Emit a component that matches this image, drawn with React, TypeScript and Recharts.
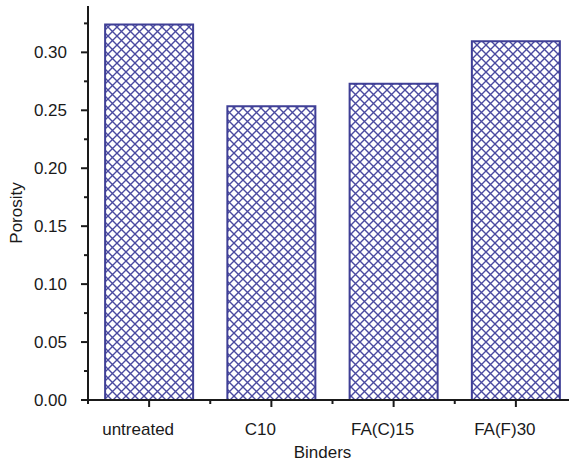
import React from "react";
import { BarChart, Bar, XAxis, YAxis, Label } from "recharts";

const binders = ["untreated", "C10", "FA(C)15", "FA(F)30"];
const porosity = [0.324, 0.2535, 0.273, 0.3095];
const yTicks = [0, 0.025, 0.05, 0.075, 0.1, 0.125, 0.15, 0.175, 0.2, 0.225, 0.25, 0.275, 0.3, 0.325];

const data = binders.map((name, i) => ({ name, porosity: porosity[i] }));

const W = 590;
const H = 466;
const M = { top: 6, right: 13, left: 0, bottom: 0 };
const Y_W = 88;
const X_H = 66;
const BAND = (W - M.left - M.right - Y_W) / binders.length;

const font = "'Liberation Sans', Arial, sans-serif";
const ink = "#1a1a1a";
const barBlue = "#3f3f96";
const FS = 17;

function YTick(props: any) {
  const { x, y, payload } = props;
  const v = Number(payload.value);
  const major = Math.abs(v / 0.05 - Math.round(v / 0.05)) < 1e-6;
  return (
    <g>
      <line x1={x - (major ? 7 : 4)} x2={x} y1={y} y2={y} stroke={ink} strokeWidth={2} />
      {major && (
        <text x={x - 21} y={y} dy={6} textAnchor="end" fontSize={FS} fontFamily={font} fill={ink}>
          {v.toFixed(2)}
        </text>
      )}
    </g>
  );
}

function XTick(props: any) {
  const { x, y, payload } = props;
  return (
    <g>
      <line x1={x} x2={x} y1={y} y2={y + 7} stroke={ink} strokeWidth={2} />
      <line x1={x - BAND / 2} x2={x - BAND / 2} y1={y} y2={y + 4} stroke={ink} strokeWidth={2} />
      <text x={x - 11} y={y + 35} textAnchor="middle" fontSize={FS} fontFamily={font} fill={ink}>
        {payload.value}
      </text>
    </g>
  );
}

export default function App() {
  return (
    <div style={{ position: "absolute", left: 0, top: 0, width: 569, height: 466, overflow: "hidden", background: "#fff" }}>
      <BarChart width={W} height={H} data={data} margin={M} barCategoryGap="14%">
        <defs>
          <pattern id="xhatch" patternUnits="userSpaceOnUse" width={9} height={9}>
            <path d="M0,0 L9,9 M9,0 L0,9" stroke="#4a4aa0" strokeWidth={1.4} />
          </pattern>
        </defs>
        <XAxis
          dataKey="name"
          height={X_H}
          interval={0}
          tickLine={false}
          tickSize={0}
          tickMargin={0}
          tick={<XTick />}
          axisLine={{ stroke: ink, strokeWidth: 2 }}
        >
          <Label value="Binders" position="insideBottom" offset={8} dx={-10} style={{ fontSize: FS, fontFamily: font, fill: ink }} />
        </XAxis>
        <XAxis
          xAxisId="top"
          dataKey="name"
          orientation="top"
          height={0}
          tick={false}
          tickLine={false}
          axisLine={{ stroke: ink, strokeWidth: 2 }}
        />
        <YAxis
          width={Y_W}
          domain={[0, 0.34]}
          ticks={yTicks}
          interval={0}
          tickLine={false}
          tickSize={0}
          tickMargin={0}
          tick={<YTick />}
          axisLine={{ stroke: ink, strokeWidth: 2 }}
        >
          <Label
            value="Porosity"
            angle={-90}
            position="insideLeft"
            offset={16}
            dy={10}
            style={{ fontSize: FS, fontFamily: font, fill: ink, textAnchor: "middle" }}
          />
        </YAxis>
        <Bar dataKey="porosity" fill="url(#xhatch)" stroke={barBlue} strokeWidth={2} isAnimationActive={false} />
      </BarChart>
    </div>
  );
}
